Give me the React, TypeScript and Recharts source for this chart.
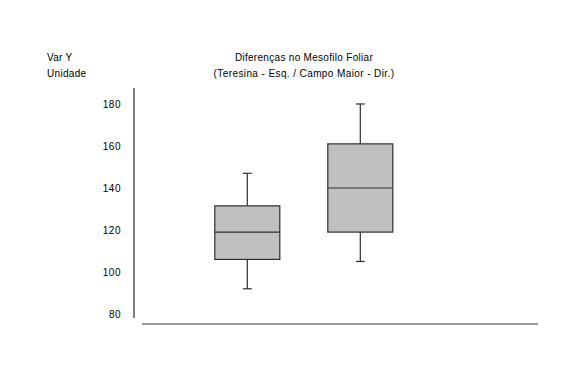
import React from 'react';
import { ComposedChart, Bar, XAxis, YAxis } from 'recharts';

// box plot values
const categories = ['Teresina', 'Campo Maior'];
const mins = [92, 105];
const q1s = [106, 119];
const medians = [119, 140];
const q3s = [131.5, 161];
const maxs = [147, 180];
const yTicks = [80, 100, 120, 140, 160, 180];

const data = categories.map((name, i) => ({
  name,
  box: [q1s[i], q3s[i]],
  min: mins[i],
  q1: q1s[i],
  median: medians[i],
  q3: q3s[i],
  max: maxs[i],
}));

const FONT = '"Liberation Sans", Arial, sans-serif';

function BoxShape(props: any) {
  const { x, y, width, height, payload } = props;
  if (height == null || !payload) return null;
  const { min, q1, median, q3, max } = payload;
  const ppu = height / (q3 - q1);
  const cx = x + width / 2;
  const yMax = y - (max - q3) * ppu;
  const yMin = y + height + (q1 - min) * ppu;
  const yMed = y + (q3 - median) * ppu;
  const cap = 4.5;
  const stroke = '#2e2e2e';
  return (
    <g strokeWidth={1.2}>
      <line x1={cx} x2={cx} y1={yMax} y2={y} stroke={stroke} />
      <line x1={cx} x2={cx} y1={y + height} y2={yMin} stroke={stroke} />
      <line x1={cx - cap} x2={cx + cap} y1={yMax} y2={yMax} stroke={stroke} />
      <line x1={cx - cap} x2={cx + cap} y1={yMin} y2={yMin} stroke={stroke} />
      <rect x={x} y={y} width={width} height={height} fill="#c0c0c0" stroke={stroke} />
      <line x1={x} x2={x + width} y1={yMed} y2={yMed} stroke={stroke} />
    </g>
  );
}

export default function App() {
  return (
    <div style={{ position: 'absolute', left: 0, top: 0, width: 573, height: 367, background: '#fff' }}>
      <ComposedChart
        width={573}
        height={367}
        data={data}
        margin={{ top: 88, right: 35, bottom: 39, left: 0 }}
      >
        <XAxis
          dataKey="name"
          height={10}
          tick={false}
          tickLine={false}
          padding={{ left: 48.8, right: 121.2 }}
          axisLine={{ stroke: '#777', strokeWidth: 1.5, transform: 'translate(0,6)' } as any}
        />
        <YAxis
          width={142}
          type="number"
          domain={[78.1, 187.6]}
          allowDataOverflow
          ticks={yTicks}
          tickLine={false}
          tickSize={0}
          tickMargin={21}
          tick={{ fill: '#000', fontSize: 10, fontFamily: FONT, letterSpacing: 0.5 }}
          axisLine={{ stroke: '#555', strokeWidth: 1.5, transform: 'translate(-8,0)' } as any}
        />
        <Bar dataKey="box" barSize={65} shape={<BoxShape />} isAnimationActive={false} />
      </ComposedChart>
      <svg
        width={573}
        height={367}
        style={{ position: 'absolute', left: 0, top: 0, pointerEvents: 'none' }}
      >
        <g fontFamily={FONT} fontSize={10} fill="#000" letterSpacing={0.3}>
          <text x={47} y={61}>Var Y</text>
          <text x={47} y={77}>Unidade</text>
          <text x={304} y={61} textAnchor="middle">Diferenças no Mesofilo Foliar</text>
          <text x={304} y={77} textAnchor="middle" letterSpacing={0.4}>(Teresina - Esq. / Campo Maior - Dir.)</text>
        </g>
      </svg>
    </div>
  );
}
